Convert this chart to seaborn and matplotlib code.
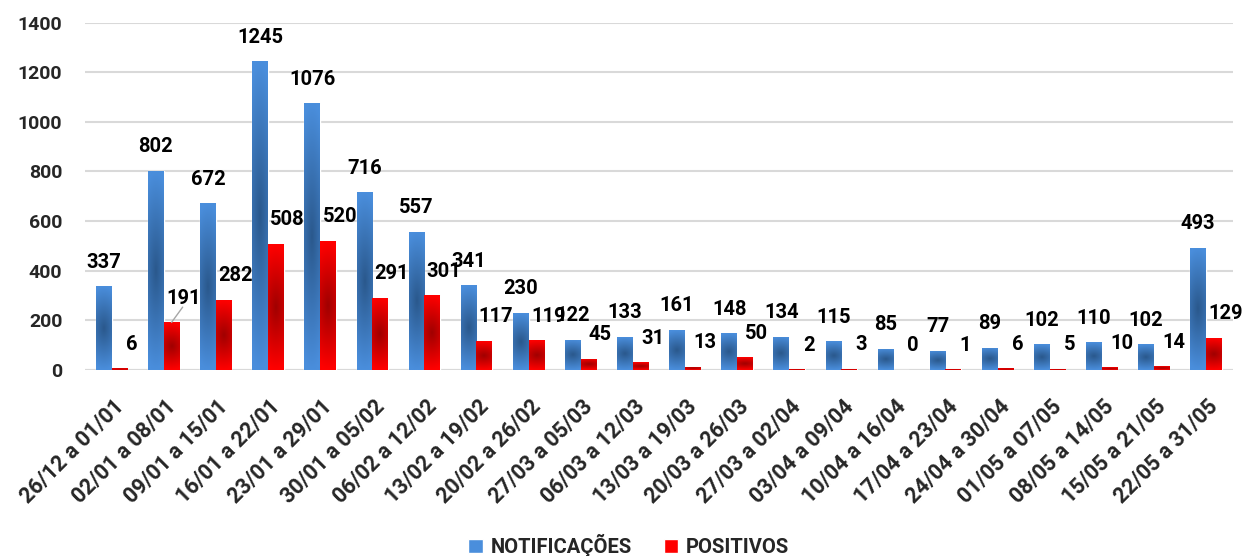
import pandas as pd
import matplotlib.pyplot as plt
import matplotlib.transforms as mtransforms
import seaborn as sns
import numpy as np

# dados semanais
periodos = ['26/12 a 01/01', '02/01 a 08/01', '09/01 a 15/01', '16/01 a 22/01',
            '23/01 a 29/01', '30/01 a 05/02', '06/02 a 12/02', '13/02 a 19/02',
            '20/02 a 26/02', '27/03 a 05/03', '06/03 a 12/03', '13/03 a 19/03',
            '20/03 a 26/03', '27/03 a 02/04', '03/04 a 09/04', '10/04 a 16/04',
            '17/04 a 23/04', '24/04 a 30/04', '01/05 a 07/05', '08/05 a 14/05',
            '15/05 a 21/05', '22/05 a 31/05']
notificacoes = [337, 802, 672, 1245, 1076, 716, 557, 341, 230, 122, 133, 161,
                148, 134, 115, 85, 77, 89, 102, 110, 102, 493]
positivos = [6, 191, 282, 508, 520, 291, 301, 117, 119, 45, 31, 13,
             50, 2, 3, 0, 1, 6, 5, 10, 14, 129]
series = ['NOTIFICAÇÕES', 'POSITIVOS']

df = pd.DataFrame({
    'periodo': periodos * 2,
    'valor': notificacoes + positivos,
    'serie': [series[0]] * len(periodos) + [series[1]] * len(periodos),
})

# cores (claro nas bordas, escuro no centro)
claro = {series[0]: np.array([74, 142, 220]) / 255, series[1]: np.array([255, 0, 0]) / 255}
escuro = {series[0]: np.array([42, 88, 140]) / 255, series[1]: np.array([160, 0, 0]) / 255}


def preencher_gradiente(ax, barra, c_claro, c_escuro):
    x0, y0 = barra.get_x(), barra.get_y()
    w, h = barra.get_width(), barra.get_height()
    if h <= 0:
        return
    v = np.linspace(-1, 1, 120)[:, None]
    u = np.linspace(-1, 1, 24)[None, :]
    t = np.clip(np.sqrt((0.4 * u) ** 2 + v ** 2), 0, 1)
    rgb = c_escuro + (c_claro - c_escuro) * t[..., None]
    im = ax.imshow(rgb, extent=(x0, x0 + w, y0, y0 + h), aspect='auto', origin='lower',
                   interpolation='bilinear', zorder=barra.get_zorder() + 0.1)
    im.set_clip_path(barra)


sns.set_style('white')
plt.rcParams['font.family'] = ['Roboto', 'DejaVu Sans']
plt.rcParams['font.weight'] = 'bold'

fig, ax = plt.subplots(figsize=(12.43, 5.56), dpi=100)
fig.subplots_adjust(left=0.068, right=0.992, top=0.959, bottom=0.335)

sns.barplot(data=df, x='periodo', y='valor', hue='serie',
            palette=[tuple(claro[s]) for s in series], width=0.6, saturation=1,
            ax=ax, zorder=3)

# gradiente e rotulos
for cont, nome, dx in zip(ax.containers, series, [0, 8.6]):
    for barra, val in zip(cont, cont.datavalues):
        preencher_gradiente(ax, barra, claro[nome], escuro[nome])
        cx = barra.get_x() + barra.get_width() / 2
        ax.annotate(f'{int(val)}', xy=(cx, val), xytext=(dx, 17.3), textcoords='offset points',
                    ha='center', va='center', fontsize=14.5, fontweight='bold', color='black',
                    zorder=5)

# linha guia do rotulo 191
b = ax.containers[1][1]
cx = b.get_x() + b.get_width() / 2
ax.annotate('', xy=(cx, b.get_height()), xytext=(8, 11), textcoords='offset points',
            arrowprops=dict(arrowstyle='-', color='#a6a6a6', lw=1, shrinkA=0, shrinkB=0),
            zorder=5)

ax.set_ylim(0, 1400)
ax.set_xlim(-0.52, len(periodos) - 0.48)
ax.set_yticks(range(0, 1401, 200))
ax.yaxis.grid(True, color='#d9d9d9', linewidth=1.5, zorder=0)
ax.set_axisbelow(True)
for lado in ['top', 'right', 'left', 'bottom']:
    ax.spines[lado].set_visible(False)
ax.axhline(0, color='#d9d9d9', linewidth=1.5, zorder=2)

ax.set_xlabel('')
ax.set_ylabel('')
ax.tick_params(axis='y', length=0, pad=16, labelsize=14)
ax.tick_params(axis='x', length=0, pad=12, labelsize=15.5)
for lbl in ax.get_yticklabels():
    lbl.set_fontweight('bold')
desloc = mtransforms.ScaledTranslation(9 / 100, -17 / 100, fig.dpi_scale_trans)
for lbl in ax.get_xticklabels():
    lbl.set_rotation(45)
    lbl.set_ha('right')
    lbl.set_va('center')
    lbl.set_rotation_mode('anchor')
    lbl.set_fontweight('bold')
    lbl.set_transform(lbl.get_transform() + desloc)

handles, labels = ax.get_legend_handles_labels()
ax.get_legend().remove()
fig.legend(handles, labels, loc='lower center', bbox_to_anchor=(0.506, -0.035), ncol=2,
           frameon=False, handlelength=0.7, handleheight=0.7, handletextpad=0.4,
           columnspacing=1.6, prop={'weight': 'bold', 'size': 14.5})

fig.savefig('out.png', dpi=100)
